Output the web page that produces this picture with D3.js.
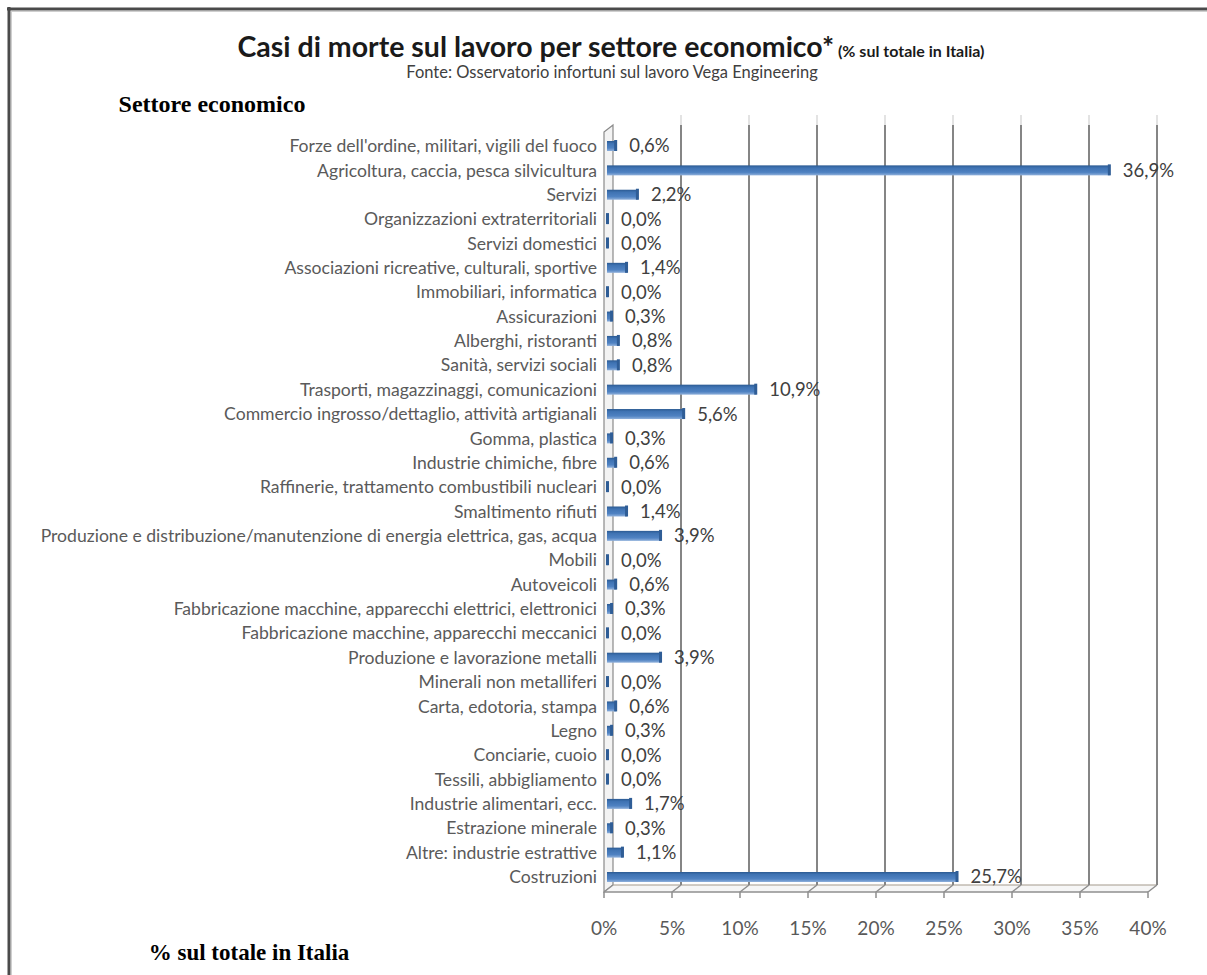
<!DOCTYPE html>
<html>
<head>
<meta charset="utf-8">
<script src="https://cdn.jsdelivr.net/npm/d3@7"></script>
<style>
  html, body { margin: 0; padding: 0; background: #fff; }
  svg { display: block; }
</style>
</head>
<body>
<svg id="chart" width="1207" height="975"></svg>
<script>
// ---- data ----
const categories = [
  "Forze dell'ordine, militari, vigili del fuoco",
  "Agricoltura, caccia, pesca silvicultura",
  "Servizi",
  "Organizzazioni extraterritoriali",
  "Servizi domestici",
  "Associazioni ricreative, culturali, sportive",
  "Immobiliari, informatica",
  "Assicurazioni",
  "Alberghi, ristoranti",
  "Sanità, servizi sociali",
  "Trasporti, magazzinaggi, comunicazioni",
  "Commercio ingrosso/dettaglio, attività artigianali",
  "Gomma, plastica",
  "Industrie chimiche, fibre",
  "Raffinerie, trattamento combustibili nucleari",
  "Smaltimento rifiuti",
  "Produzione e distribuzione/manutenzione di energia elettrica, gas, acqua",
  "Mobili",
  "Autoveicoli",
  "Fabbricazione macchine, apparecchi elettrici, elettronici",
  "Fabbricazione macchine, apparecchi meccanici",
  "Produzione e lavorazione metalli",
  "Minerali non metalliferi",
  "Carta, edotoria, stampa",
  "Legno",
  "Conciarie, cuoio",
  "Tessili, abbigliamento",
  "Industrie alimentari, ecc.",
  "Estrazione minerale",
  "Altre: industrie estrattive",
  "Costruzioni"
];
const values = [0.6, 36.9, 2.2, 0.0, 0.0, 1.4, 0.0, 0.3, 0.8, 0.8, 10.9, 5.6, 0.3, 0.6, 0.0, 1.4, 3.9, 0.0, 0.6, 0.3, 0.0, 3.9, 0.0, 0.6, 0.3, 0.0, 0.0, 1.7, 0.3, 1.1, 25.7];
const tickValues = [0, 5, 10, 15, 20, 25, 30, 35, 40];
const titleMain = "Casi di morte sul lavoro per settore economico*";
const titleSuffix = " (% sul totale in Italia)";
const subtitle = "Fonte: Osservatorio infortuni sul lavoro Vega Engineering";
const yAxisTitle = "Settore economico";
const xAxisTitle = "% sul totale in Italia";

// ---- layout ----
const svg = d3.select("#chart");
const FONT = "Lato, 'Open Sans', sans-serif";
const x = d3.scaleLinear().domain([0, 40]).range([604, 1148]);
const y = d3.scalePoint().domain(categories).range([146, 877]);
const dx = 9, dy = -7;           // 3D depth offset
const wallTop = 125, floorBack = 885, floorFront = 892;

// frame
svg.append("line").attr("x1", 7).attr("x2", 1207).attr("y1", 9).attr("y2", 9)
  .attr("stroke", "#4a4a4a").attr("stroke-width", 3);
svg.append("line").attr("x1", 9).attr("x2", 9).attr("y1", 7).attr("y2", 975)
  .attr("stroke", "#4a4a4a").attr("stroke-width", 3);
svg.append("line").attr("x1", 11).attr("x2", 1207).attr("y1", 11.5).attr("y2", 11.5)
  .attr("stroke", "#cfcfcf").attr("stroke-width", 1);
svg.append("line").attr("x1", 11.5).attr("x2", 11.5).attr("y1", 11).attr("y2", 975)
  .attr("stroke", "#cfcfcf").attr("stroke-width", 1);

// title
const t = svg.append("text").attr("x", 611).attr("y", 57).attr("text-anchor", "middle")
  .attr("font-family", FONT).attr("fill", "#1a1a1a");
t.append("tspan").attr("font-size", 28.5).attr("font-weight", 700).text(titleMain);
t.append("tspan").attr("font-size", 16).attr("font-weight", 700).text(titleSuffix);
svg.append("text").attr("x", 612).attr("y", 78).attr("text-anchor", "middle")
  .attr("font-family", FONT).attr("font-size", 16.5).attr("fill", "#404040").text(subtitle);

// axis titles
svg.append("text").attr("x", 212).attr("y", 112).attr("text-anchor", "middle")
  .attr("font-family", "'Liberation Serif', 'Times New Roman', serif").attr("font-weight", 700)
  .attr("font-size", 24).attr("fill", "#000").text(yAxisTitle);
svg.append("text").attr("x", 249).attr("y", 960).attr("text-anchor", "middle")
  .attr("font-family", "'Liberation Serif', 'Times New Roman', serif").attr("font-weight", 700)
  .attr("font-size", 23).attr("fill", "#000").text(xAxisTitle);

// left wall
svg.append("path")
  .attr("d", `M${x(0)},${wallTop - dy} L${x(0) + dx},${wallTop} L${x(0) + dx},${floorBack} L${x(0)},${floorFront} Z`)
  .attr("fill", "#f3f3f3").attr("stroke", "#8a8a8a").attr("stroke-width", 1.2);
// floor
svg.append("path")
  .attr("d", `M${x(0)},${floorFront} L${x(0) + dx},${floorBack} L${x(40) + dx},${floorBack} L${x(40)},${floorFront} Z`)
  .attr("fill", "#f6f6f6").attr("stroke", "none");
svg.append("line").attr("x1", x(0) + dx).attr("x2", x(40) + dx).attr("y1", floorBack).attr("y2", floorBack)
  .attr("stroke", "#a49a8c").attr("stroke-width", 1.2);
svg.append("line").attr("x1", x(0)).attr("x2", x(40)).attr("y1", floorFront).attr("y2", floorFront)
  .attr("stroke", "#8f8f8f").attr("stroke-width", 1.5);

// back-wall gridlines
svg.append("g").selectAll("line").data(tickValues.slice(1)).join("line")
  .attr("x1", d => x(d) + dx).attr("x2", d => x(d) + dx)
  .attr("y1", wallTop).attr("y2", floorBack)
  .attr("stroke", "#858585").attr("stroke-width", 2);
svg.append("g").selectAll("line").data(tickValues.slice(1)).join("line")
  .attr("x1", d => x(d) + dx).attr("x2", d => x(d) + dx)
  .attr("y1", wallTop - 10).attr("y2", wallTop)
  .attr("stroke", "#e3e3e3").attr("stroke-width", 2);
// floor connectors and ticks
svg.append("g").selectAll("path").data(tickValues).join("path")
  .attr("d", d => `M${x(d)},${floorFront + 6} L${x(d)},${floorFront} L${x(d) + dx},${floorBack}`)
  .attr("fill", "none").attr("stroke", "#8f8f8f").attr("stroke-width", 1.5);

// x axis tick labels
svg.append("g").selectAll("text").data(tickValues).join("text")
  .attr("x", d => x(d)).attr("y", 935).attr("text-anchor", "middle")
  .attr("font-family", FONT).attr("font-size", 19).attr("fill", "#595959")
  .text(d => d + "%");

// category labels
const catG = svg.append("g");
const catText = catG.selectAll("text").data(categories).join("text")
  .attr("x", 597).attr("y", d => y(d)).attr("dy", "0.35em").attr("text-anchor", "end")
  .attr("font-family", FONT).attr("font-size", 10).attr("fill", "#5a5a5a")
  .text(d => d);
// fit font so the longest label spans x=40..597
let maxW = 0;
catText.each(function () { maxW = Math.max(maxW, this.getComputedTextLength()); });
const catFont = Math.max(12, Math.min(19, 10 * 557 / maxW));
catText.attr("font-size", catFont);

// bars
const defs = svg.append("defs");
const grad = defs.append("linearGradient").attr("id", "barGrad").attr("x1", 0).attr("x2", 0).attr("y1", 0).attr("y2", 1);
grad.append("stop").attr("offset", "0%").attr("stop-color", "#2b5a92");
grad.append("stop").attr("offset", "25%").attr("stop-color", "#3f73b3");
grad.append("stop").attr("offset", "70%").attr("stop-color", "#4f82c2");
grad.append("stop").attr("offset", "100%").attr("stop-color", "#8fb0db");

const bh = 10;
const barG = svg.append("g");
barG.selectAll("rect.bar").data(values).join("rect").attr("class", "bar")
  .attr("x", x(0) + 3)
  .attr("y", (d, i) => y(categories[i]) - bh / 2)
  .attr("width", d => Math.max(0, x(d) - x(0)) + 1)
  .attr("height", bh)
  .attr("fill", "url(#barGrad)");
// end caps (3D side face)
barG.selectAll("rect.cap").data(values).join("rect").attr("class", "cap")
  .attr("x", d => x(d) + 2)
  .attr("y", (d, i) => y(categories[i]) - bh / 2 - 1)
  .attr("width", 3)
  .attr("height", bh + 1)
  .attr("fill", "#2f5d96");

// value labels
svg.append("g").selectAll("text").data(values).join("text")
  .attr("x", d => x(d) + 17)
  .attr("y", (d, i) => y(categories[i]))
  .attr("dy", "0.35em")
  .attr("font-family", FONT).attr("font-size", 18.5).attr("fill", "#404040")
  .text(d => d3.format(".1f")(d).replace(".", ",") + "%");
</script>
</body>
</html>
